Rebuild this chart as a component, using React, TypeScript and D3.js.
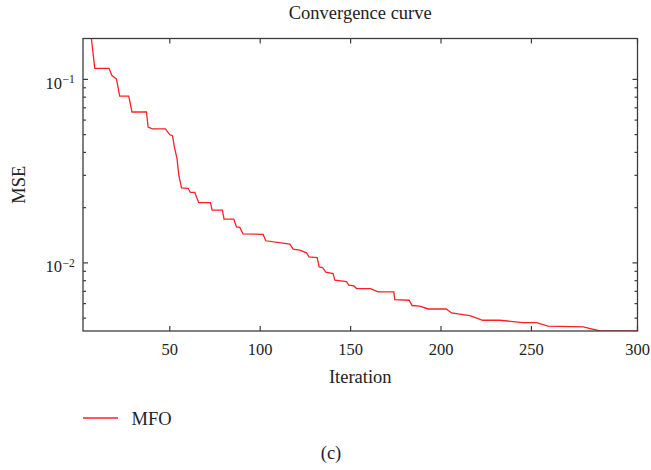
import React from "react";
import * as d3 from "d3";

const iterations = [6, 8.5, 16.4, 17.9, 20.5, 22.3, 27.3, 29.1, 37.1, 38, 40.4, 47.6, 50, 51.5, 52.5, 54, 55, 56.5, 60.1, 61.4, 63.8, 66, 72.5, 73.4, 79.1, 80, 85.4, 86.9, 88.7, 90.5, 101.6, 103.1, 116.4, 118.2, 121.9, 125.6, 127, 131.5, 132.6, 134.5, 136.3, 140.3, 141.3, 147.7, 149, 151.8, 153.3, 161, 165.2, 173.9, 174.4, 182.4, 184, 188.3, 192.9, 202.9, 205.8, 215.9, 220.5, 223, 232.5, 245.4, 252.4, 257.8, 274.4, 282.3, 300];
const mseValues = [0.19, 0.1148, 0.1148, 0.1052, 0.1004, 0.0811, 0.0811, 0.0664, 0.0664, 0.055, 0.0538, 0.0538, 0.0499, 0.0493, 0.043, 0.037, 0.03, 0.0256, 0.0255, 0.0242, 0.0242, 0.0213, 0.0213, 0.0194, 0.0194, 0.0173, 0.0173, 0.0157, 0.0156, 0.0144, 0.0143, 0.0132, 0.01265, 0.01188, 0.01173, 0.01134, 0.01079, 0.0107, 0.00951, 0.00944, 0.0089, 0.00875, 0.00805, 0.00792, 0.00756, 0.00749, 0.00725, 0.00725, 0.00695, 0.00695, 0.00631, 0.00626, 0.00586, 0.00581, 0.00561, 0.00561, 0.00534, 0.00516, 0.00497, 0.00487, 0.00487, 0.00473, 0.00473, 0.00453, 0.00448, 0.004256, 0.004256];

const xTicks = [50, 100, 150, 200, 250, 300];
const yMajorTicks = [0.01, 0.1];
const yMinorTicks = [0.005, 0.006, 0.007, 0.008, 0.009, 0.02, 0.03, 0.04, 0.05, 0.06, 0.07, 0.08, 0.09];
const yExponents = ["−2", "−1"];
const seriesName = "MFO";
const title = "Convergence curve";
const xLabel = "Iteration";
const yLabel = "MSE";
const caption = "(c)";

const W = 651, H = 470;
const L = 83, R = 637.5, T = 38.5, B = 331;
const FONT = "'Liberation Serif', 'Times New Roman', serif";
const AX = "#3c3c3c";
const RED = "#ff1f26";

export default function App() {
  const x = d3.scaleLinear().domain([2, 250, 300]).range([L, L + (R - L) * 0.8087, R]);
  const y = d3.scaleLog().domain([0.004256, 0.167]).range([B, T]);
  const pts = iterations.map((it, i) => [it, mseValues[i]] as [number, number]);
  const line = d3.line<[number, number]>().x(d => x(d[0])).y(d => y(d[1]));
  const cx = (L + R) / 2;
  const cy = (T + B) / 2;
  return (
    <svg width={W} height={H} style={{ position: "absolute", left: 0, top: 0, background: "#fff" }}>
      <defs>
        <clipPath id="plotclip">
          <rect x={L} y={T} width={R - L} height={B - T} />
        </clipPath>
      </defs>
      <text x={cx} y={19} textAnchor="middle" fontFamily={FONT} fontSize={18.5} fill="#222">{title}</text>
      <path d={line(pts) || ""} fill="none" stroke={RED} strokeWidth={1.3} clipPath="url(#plotclip)" />
      <rect x={L} y={T} width={R - L} height={B - T} fill="none" stroke={AX} strokeWidth={1.3} />
      {xTicks.map(t => (
        <g key={"x" + t}>
          <line x1={x(t)} x2={x(t)} y1={B} y2={B - 5} stroke={AX} strokeWidth={1.2} />
          <line x1={x(t)} x2={x(t)} y1={T} y2={T + 5} stroke={AX} strokeWidth={1.2} />
          <text x={x(t)} y={355} textAnchor="middle" fontFamily={FONT} fontSize={16.5} fill="#222">{t}</text>
        </g>
      ))}
      {yMajorTicks.map((t, i) => (
        <g key={"ym" + t}>
          <line x1={L} x2={L + 5} y1={y(t)} y2={y(t)} stroke={AX} strokeWidth={1.2} />
          <line x1={R} x2={R - 5} y1={y(t)} y2={y(t)} stroke={AX} strokeWidth={1.2} />
          <text x={62} y={y(t) + 9.5} textAnchor="end" fontFamily={FONT} fontSize={16.5} fill="#222">10</text>
          <text x={62.5} y={y(t) + 4} textAnchor="start" fontFamily={FONT} fontSize={11.5} fill="#222">{yExponents[i]}</text>
        </g>
      ))}
      {yMinorTicks.map(t => (
        <g key={"yn" + t}>
          <line x1={L} x2={L + 3} y1={y(t)} y2={y(t)} stroke={AX} strokeWidth={1.2} />
          <line x1={R} x2={R - 3} y1={y(t)} y2={y(t)} stroke={AX} strokeWidth={1.2} />
        </g>
      ))}
      <text x={cx} y={383} textAnchor="middle" fontFamily={FONT} fontSize={18.5} fill="#222">{xLabel}</text>
      <text transform={`translate(25,${cy}) rotate(-90)`} textAnchor="middle" fontFamily={FONT} fontSize={18.5} fill="#222">{yLabel}</text>
      <line x1={83} x2={118} y1={418} y2={418} stroke={RED} strokeWidth={1.3} />
      <text x={131.5} y={425} fontFamily={FONT} fontSize={18.5} fill="#222">{seriesName}</text>
      <text x={331} y={459} textAnchor="middle" fontFamily={FONT} fontSize={18.5} fill="#222">{caption}</text>
    </svg>
  );
}
